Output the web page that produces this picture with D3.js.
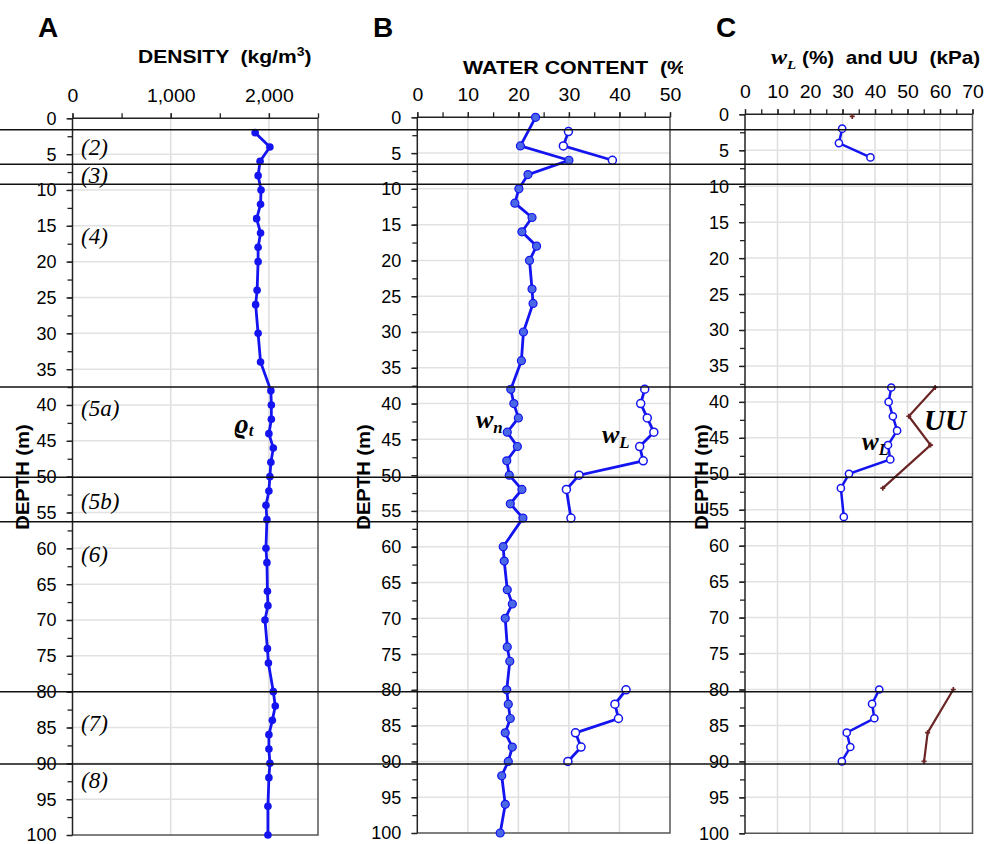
<!DOCTYPE html>
<html>
<head>
<meta charset="utf-8">
<script src="https://cdn.jsdelivr.net/npm/d3@7"></script>
<style>
  body { margin: 0; background: #fff; }
  svg { display: block; }
  .tick text { font-family: "Liberation Sans", Arial, sans-serif; font-size: 18px; fill: #000; }
  .title { font-family: "Liberation Sans", Arial, sans-serif; font-weight: bold; font-size: 18px; white-space: pre; }
  .letter { font-family: "Liberation Sans", Arial, sans-serif; font-weight: bold; font-size: 28px; }
  .layer { font-family: "Liberation Serif", "Times New Roman", serif; font-style: italic; font-size: 23px; }
  .sym { font-family: "Liberation Serif", "Times New Roman", serif; font-style: italic; font-weight: bold; }
</style>
</head>
<body>
<div id="chart"></div>
<script>
// ---- data ----
var densityDepth = [2,4,6,8,10,12,14,16,18,20,24,26,30,34,38,40,42,44,46,48,50,52,54,56,60,62,66,68,70,74,76,80,82,84,86,88,90,92,96,100];
var density = [1860,2010,1910,1890,1920,1915,1875,1915,1890,1890,1880,1865,1890,1915,2020,2025,2025,2000,2045,2020,2010,2000,1970,1980,1970,1980,1985,1990,1960,1985,1995,2045,2065,2035,2000,2000,2010,2000,1990,1990];

var wnDepth = [0,4,6,8,10,12,14,16,18,20,24,26,30,34,38,40,42,44,46,48,50,52,54,56,60,62,66,68,70,74,76,80,82,84,86,88,90,92,96,100];
var wn = [23.4,20.4,30.0,21.9,20.1,19.3,22.7,20.7,23.6,22.2,22.7,22.9,21.0,20.6,18.5,19.1,20.0,17.8,19.8,17.7,18.2,20.7,18.4,20.9,17.0,17.2,17.8,18.8,17.4,17.8,18.3,17.7,18.0,18.4,17.4,18.8,18.0,16.7,17.4,16.4];

// null = break in the line
var wlDepth = [2,4,6,null,38,40,42,44,46,48,50,52,56,null,80,82,84,86,88,90];
var wl = [29.9,28.9,38.6,null,45.0,44.2,45.5,46.8,44.0,44.7,32.0,29.5,30.4,null,41.3,39.1,39.8,31.3,32.4,29.8];

var uuDepth = [0.3,null,38,42,46,52,null,80,86,90];
var uu = [33,null,58.5,50.4,57.1,42.4,null,64.1,56.2,55.1];

var layerDepths = [1.6,6.4,9.2,37.5,50.1,56.3,80.0,90.1];
var layerNames = ["(2)","(3)","(4)","(5a)","(5b)","(6)","(7)","(8)"];
var layerLabelDepth = [4.2,8.1,16.5,40.5,53.5,61,84.5,92.5];

var densityTicks = [0,1000,2000];
var pctTicks = [0,10,20,30,40,50];
var pctTicksC = [0,10,20,30,40,50,60,70];

var W = 992, H = 844;
var svg = d3.select("#chart").append("svg")
    .attr("width", W).attr("height", H);

var blue = "#1414f0";
var brown = "#6b2525";

// panel setup
var panels = [
  { id: "A", x0: 72.5, x1: 318, y0: 118.3, y1: 835, dom: [0,2500], ticks: densityTicks, minor: 500, fmt: d3.format(",") },
  { id: "B", x0: 417.3, x1: 670, y0: 117.3, y1: 833, dom: [0,50], ticks: pctTicks, minor: 5, fmt: d3.format("d") },
  { id: "C", x0: 745, x1: 972.5, y0: 114.3, y1: 833.3, dom: [0,70], ticks: pctTicksC, minor: 5, fmt: d3.format("d") }
];

panels.forEach(function(p) {
  p.x = d3.scaleLinear().domain(p.dom).range([p.x0, p.x1]);
  p.y = d3.scaleLinear().domain([0,100]).range([p.y0, p.y1]);
  var g = svg.append("g").attr("class", "panel-" + p.id);
  p.g = g;

  // grid
  g.append("g").selectAll("line.vg")
    .data(p.ticks.filter(function(t){ return t > p.dom[0] && t < p.dom[1]; }))
    .enter().append("line")
      .attr("x1", function(d){ return p.x(d); }).attr("x2", function(d){ return p.x(d); })
      .attr("y1", p.y0).attr("y2", p.y1)
      .attr("stroke", "#dedede").attr("stroke-width", 1.5);
  g.append("g").selectAll("line.hg")
    .data(d3.range(5, 100, 5))
    .enter().append("line")
      .attr("x1", p.x0).attr("x2", p.x1)
      .attr("y1", function(d){ return p.y(d); }).attr("y2", function(d){ return p.y(d); })
      .attr("stroke", "#e2e2e2").attr("stroke-width", 1.5);

  // frame right / bottom
  g.append("path")
    .attr("d", "M" + p.x0 + "," + p.y1 + "H" + p.x1 + "V" + p.y0)
    .attr("fill", "none").attr("stroke", "#555").attr("stroke-width", 1.5);

  // top axis: minor then major
  g.append("g")
    .attr("transform", "translate(0," + p.y0 + ")")
    .call(d3.axisTop(p.x).tickValues(d3.range(p.dom[0], p.dom[1] + 1e-9, p.minor)).tickSize(5).tickFormat(""))
    .call(function(a){ a.select(".domain").remove(); a.selectAll("line").attr("stroke", "#222").attr("stroke-width", 1.3); });
  g.append("g")
    .attr("transform", "translate(0," + p.y0 + ")")
    .call(d3.axisTop(p.x).tickValues(p.ticks).tickSize(5).tickPadding(11).tickFormat(p.fmt))
    .call(function(a){
      a.select(".domain").attr("stroke", "#222").attr("stroke-width", 1.5).attr("d", "M" + p.x0 + ",0H" + p.x1);
      a.selectAll("line").attr("stroke", "#222").attr("stroke-width", 1.3);
      a.selectAll("text").attr("transform", "scale(1.08,1)");
    });

  // left axis
  g.append("g")
    .attr("transform", "translate(" + p.x0 + ",0)")
    .call(d3.axisLeft(p.y).tickValues(d3.range(0, 101, 2.5)).tickSize(5).tickFormat(""))
    .call(function(a){ a.select(".domain").remove(); a.selectAll("line").attr("stroke", "#222").attr("stroke-width", 1.3); });
  g.append("g")
    .attr("transform", "translate(" + p.x0 + ",0)")
    .call(d3.axisLeft(p.y).tickValues(d3.range(0, 101, 5)).tickSize(6).tickPadding(10))
    .call(function(a){
      a.select(".domain").attr("stroke", "#222").attr("stroke-width", 1.5).attr("d", "M0," + p.y0 + "V" + p.y1);
      a.selectAll("line").attr("stroke", "#222").attr("stroke-width", 1.3);
      a.selectAll("text").attr("dy", "0.33em");
    });
});

var A = panels[0], B = panels[1], C = panels[2];

function pts(depths, vals) {
  return depths.map(function(d, i){ return { d: d, v: vals[i] }; });
}

// ---- panel A: density ----
var densPts = pts(densityDepth, density);
A.g.append("path")
  .datum(densPts)
  .attr("fill", "none").attr("stroke", blue).attr("stroke-width", 2.8)
  .attr("d", d3.line().x(function(d){ return A.x(d.v); }).y(function(d){ return A.y(d.d); }));
A.g.selectAll("circle.dens").data(densPts).enter().append("circle")
  .attr("cx", function(d){ return A.x(d.v); }).attr("cy", function(d){ return A.y(d.d); })
  .attr("r", 3.8).attr("fill", blue);

// ---- panel B: water content ----
var wnPts = pts(wnDepth, wn);
var wlPts = pts(wlDepth, wl);
var lineB = d3.line().defined(function(d){ return d.v != null; })
  .x(function(d){ return B.x(d.v); }).y(function(d){ return B.y(d.d); });
B.g.append("path").datum(wnPts)
  .attr("fill", "none").attr("stroke", blue).attr("stroke-width", 2.8).attr("d", lineB);
B.g.append("path").datum(wlPts)
  .attr("fill", "none").attr("stroke", blue).attr("stroke-width", 2.8).attr("d", lineB);
B.g.selectAll("circle.wn").data(wnPts).enter().append("circle")
  .attr("cx", function(d){ return B.x(d.v); }).attr("cy", function(d){ return B.y(d.d); })
  .attr("r", 4).attr("fill", "#4a68e6").attr("stroke", blue).attr("stroke-width", 1.2);
B.g.selectAll("circle.wl").data(wlPts.filter(function(d){ return d.v != null; })).enter().append("circle")
  .attr("cx", function(d){ return B.x(d.v); }).attr("cy", function(d){ return B.y(d.d); })
  .attr("r", 4).attr("fill", "#fff").attr("stroke", blue).attr("stroke-width", 1.5);

// ---- panel C: wL and UU ----
var lineC = d3.line().defined(function(d){ return d.v != null; })
  .x(function(d){ return C.x(d.v); }).y(function(d){ return C.y(d.d); });
C.g.append("path").datum(wlPts)
  .attr("fill", "none").attr("stroke", blue).attr("stroke-width", 2.5).attr("d", lineC);
C.g.selectAll("circle.wl").data(wlPts.filter(function(d){ return d.v != null; })).enter().append("circle")
  .attr("cx", function(d){ return C.x(d.v); }).attr("cy", function(d){ return C.y(d.d); })
  .attr("r", 3.6).attr("fill", "#fff").attr("stroke", blue).attr("stroke-width", 1.5);
var uuPts = pts(uuDepth, uu);
C.g.append("path").datum(uuPts)
  .attr("fill", "none").attr("stroke", brown).attr("stroke-width", 2.2).attr("d", lineC);
C.g.selectAll("path.uu").data(uuPts.filter(function(d){ return d.v != null; })).enter().append("path")
  .attr("d", d3.symbol().type(d3.symbolCross).size(14))
  .attr("transform", function(d){ return "translate(" + C.x(d.v) + "," + C.y(d.d) + ")"; })
  .attr("fill", brown);

// ---- layer boundaries ----
svg.append("g").selectAll("line").data(layerDepths).enter().append("line")
  .attr("x1", 0).attr("x2", 972)
  .attr("y1", function(d){ return A.y(d); }).attr("y2", function(d){ return A.y(d); })
  .attr("stroke", "#111").attr("stroke-width", 1.5);

A.g.selectAll("text.layer").data(layerNames).enter().append("text")
  .attr("class", "layer")
  .attr("x", 81)
  .attr("y", function(d, i){ return A.y(layerLabelDepth[i]) + 7; })
  .text(function(d){ return d; });

// ---- titles and labels ----
svg.append("text").attr("class", "letter").attr("x", 38).attr("y", 37).text("A");
svg.append("text").attr("class", "letter").attr("x", 373).attr("y", 37).text("B");
svg.append("text").attr("class", "letter").attr("x", 716).attr("y", 37).text("C");

// titles drawn slightly wide, like the original
var tA = svg.append("text").attr("class", "title").attr("transform", "translate(138,63) scale(1.17,1)");
tA.append("tspan").text("DENSITY  (kg/m");
tA.append("tspan").attr("font-size", "12px").attr("dy", -7).text("3");
tA.append("tspan").attr("dy", 7).text(")");

svg.append("clipPath").attr("id", "clipB")
  .append("rect").attr("x", 340).attr("y", 40).attr("width", 343).attr("height", 50);
svg.append("g").attr("clip-path", "url(#clipB)")
  .append("text").attr("class", "title").attr("transform", "translate(463,74) scale(1.19,1)")
  .text("WATER CONTENT  (%)");

var tC = svg.append("text").attr("class", "title").attr("transform", "translate(771,64) scale(1.15,1)");
tC.append("tspan").attr("class", "sym").attr("font-size", "21px").text("w");
tC.append("tspan").attr("class", "sym").attr("font-size", "13px").attr("dy", 5).text("L");
tC.append("tspan").attr("dy", -5).text(" (%)  and UU  (kPa)");

[{ x: 29, y: 477 }, { x: 370, y: 477 }, { x: 708, y: 477 }].forEach(function(p) {
  svg.append("text").attr("class", "title")
    .attr("font-size", "19px")
    .attr("transform", "translate(" + p.x + "," + p.y + ") rotate(-90) scale(1.12,1)")
    .attr("text-anchor", "middle")
    .text("DEPTH (m)");
});

// series labels
var rho = svg.append("text").attr("class", "sym").attr("x", 234).attr("y", 433).attr("font-size", "27px");
rho.append("tspan").text("\u03F1");
rho.append("tspan").attr("font-size", "17px").attr("dy", 3).text("t");

function wLabel(x, y, sub, size) {
  var t = svg.append("text").attr("class", "sym").attr("x", x).attr("y", y).attr("font-size", size + "px");
  t.append("tspan").text("w");
  t.append("tspan").attr("font-size", (size * 0.65) + "px").attr("dy", 5).text(sub);
}
wLabel(476, 428, "n", 26);
wLabel(602, 443, "L", 26);
wLabel(862, 450, "L", 25);
svg.append("text").attr("class", "sym").attr("x", 924).attr("y", 430).attr("font-size", "29px").text("UU");
</script>
</body>
</html>
